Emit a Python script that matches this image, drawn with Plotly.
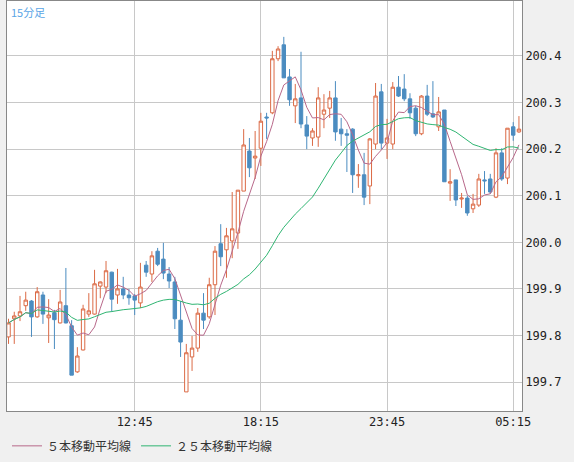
import pandas as pd
import plotly.graph_objects as go

# 15-minute bars, 07:15 -> 05:30 next day
start = "2024-01-01 07:15"
opens = [199.797, 199.836, 199.842, 199.864, 199.874, 199.840, 199.887, 199.838, 199.849, 199.827,
         199.864, 199.821, 199.722, 199.769, 199.846, 199.846, 199.906, 199.904, 199.936, 199.887,
         199.900, 199.887, 199.885, 199.870, 199.951, 199.932, 199.981, 199.964, 199.932, 199.915,
         199.833, 199.679, 199.754, 199.773, 199.848, 199.840, 199.909, 199.997, 199.984, 200.003,
         200.020, 200.110, 200.196, 200.181, 200.202, 200.269, 200.278, 200.394, 200.424, 200.355,
         200.293, 200.310, 200.252, 200.224, 200.226, 200.275, 200.288, 200.310, 200.243, 200.233,
         200.243, 200.143, 200.145, 200.121, 200.211, 200.323, 200.213, 200.211, 200.333, 200.329,
         200.308, 200.288, 200.233, 200.314, 200.276, 200.248, 200.284, 200.127, 200.134, 200.093,
         200.095, 200.072, 200.080, 200.134, 200.136, 200.097, 200.192, 200.138, 200.248, 200.237]
highs = [199.836, 199.851, 199.885, 199.894, 199.876, 199.904, 199.894, 199.878, 199.855, 199.898,
         199.945, 199.833, 199.775, 199.866, 199.891, 199.941, 199.916, 199.960, 199.937, 199.943,
         199.926, 199.900, 199.889, 199.956, 199.960, 199.981, 199.988, 199.999, 199.947, 199.926,
         199.874, 199.782, 199.799, 199.859, 199.891, 199.924, 199.992, 200.039, 200.031, 200.108,
         200.112, 200.243, 200.224, 200.239, 200.278, 200.278, 200.411, 200.421, 200.441, 200.372,
         200.340, 200.409, 200.271, 200.245, 200.333, 200.318, 200.325, 200.346, 200.267, 200.243,
         200.245, 200.168, 200.192, 200.224, 200.342, 200.340, 200.265, 200.344, 200.357, 200.361,
         200.320, 200.293, 200.316, 200.338, 200.346, 200.312, 200.284, 200.157, 200.134, 200.106,
         200.100, 200.104, 200.147, 200.153, 200.147, 200.202, 200.202, 200.245, 200.258, 200.271]
lows = [199.782, 199.782, 199.831, 199.853, 199.797, 199.838, 199.825, 199.784, 199.771, 199.826,
        199.826, 199.715, 199.720, 199.768, 199.840, 199.845, 199.880, 199.891, 199.851, 199.868,
        199.878, 199.866, 199.844, 199.859, 199.926, 199.915, 199.949, 199.921, 199.902, 199.814,
        199.754, 199.679, 199.724, 199.765, 199.814, 199.836, 199.844, 199.949, 199.924, 199.966,
        199.986, 200.110, 200.140, 200.136, 200.164, 200.222, 200.275, 200.389, 200.353, 200.293,
        200.256, 200.245, 200.200, 200.207, 200.205, 200.245, 200.267, 200.218, 200.207, 200.151,
        200.106, 200.117, 200.080, 200.082, 200.200, 200.200, 200.179, 200.200, 200.312, 200.303,
        200.265, 200.228, 200.230, 200.271, 200.267, 200.239, 200.130, 200.089, 200.078, 200.074,
        200.057, 200.063, 200.076, 200.104, 200.104, 200.095, 200.132, 200.125, 200.218, 200.235]
closes = [199.827, 199.842, 199.851, 199.876, 199.840, 199.894, 199.846, 199.844, 199.834, 199.872,
          199.827, 199.715, 199.756, 199.857, 199.853, 199.911, 199.915, 199.939, 199.878, 199.900,
          199.887, 199.881, 199.876, 199.904, 199.936, 199.971, 199.953, 199.934, 199.917, 199.836,
          199.786, 199.763, 199.773, 199.848, 199.833, 199.909, 199.981, 199.969, 200.014, 200.029,
          200.112, 200.209, 200.160, 200.185, 200.260, 200.267, 200.394, 200.415, 200.353, 200.306,
          200.308, 200.254, 200.228, 200.239, 200.310, 200.284, 200.310, 200.237, 200.233, 200.230,
          200.145, 200.145, 200.097, 200.222, 200.314, 200.213, 200.224, 200.333, 200.314, 200.308,
          200.278, 200.233, 200.314, 200.275, 200.269, 200.280, 200.130, 200.130, 200.091, 200.095,
          200.063, 200.082, 200.136, 200.132, 200.108, 200.192, 200.136, 200.245, 200.230, 200.243]
tick_labels = ["12:45", "18:15", "23:45", "05:15"]
y_ticks = [199.7, 199.8, 199.9, 200.0, 200.1, 200.2, 200.3, 200.4]

df = pd.DataFrame({"open": opens, "high": highs, "low": lows, "close": closes})
df["time"] = pd.date_range(start, periods=len(df), freq="15min")
df["ma5"] = df["close"].rolling(5, min_periods=1).mean()
df["ma25"] = df["close"].rolling(25, min_periods=1).mean()

tick_vals = [df["time"].iloc[0] + pd.Timedelta(hours=5.5 * (i + 1)) for i in range(len(tick_labels))]

fig = go.Figure()
fig.add_trace(go.Candlestick(
    x=df["time"], open=df["open"], high=df["high"], low=df["low"], close=df["close"],
    increasing=dict(line=dict(color="#db6a45", width=1), fillcolor="white"),
    decreasing=dict(line=dict(color="#4b8cc0", width=1), fillcolor="#4b8cc0"),
    whiskerwidth=0, showlegend=False, hoverinfo="skip",
))
fig.add_trace(go.Scatter(x=df["time"], y=df["ma5"], mode="lines", name="５本移動平均線",
                         line=dict(color="#b8688a", width=1)))
fig.add_trace(go.Scatter(x=df["time"], y=df["ma25"], mode="lines", name="２５本移動平均線",
                         line=dict(color="#2fb572", width=1)))

fig.add_annotation(text="15分足", xref="paper", yref="paper", x=0.003, y=0.997,
                   xanchor="left", yanchor="top", showarrow=False,
                   font=dict(color="#5aa5e6", size=11, family="Noto Sans CJK JP"))

fig.update_layout(
    width=574, height=462,
    margin=dict(l=7, r=52, t=1, b=51, autoexpand=False),
    paper_bgcolor="#f0f0f0", plot_bgcolor="white",
    boxgap=0.15,
    font=dict(family="DejaVu Sans Mono", size=12, color="#222"),
    legend=dict(orientation="h", x=0.0, y=-0.085, xanchor="left", yanchor="middle",
                font=dict(family="Noto Sans CJK JP", size=12, color="#333"),
                bgcolor="rgba(0,0,0,0)", itemwidth=30),
    xaxis=dict(rangeslider=dict(visible=False), automargin=False,
               range=[df["time"].iloc[0] - pd.Timedelta(minutes=4),
                      df["time"].iloc[-1] + pd.Timedelta(minutes=8)],
               tickvals=tick_vals, ticktext=tick_labels, showgrid=True,
               gridcolor="#c8c8c8", gridwidth=1, showline=True, linecolor="#888",
               mirror=True, ticks="", zeroline=False),
    yaxis=dict(side="right", range=[199.638, 200.518], tickvals=y_ticks, automargin=False,
               ticktext=[f"{v:.1f}" for v in y_ticks], showgrid=True,
               gridcolor="#c8c8c8", gridwidth=1, showline=True, linecolor="#888",
               mirror=True, ticks="", zeroline=False),
)

fig.write_html("out.html", config={"displayModeBar": False},
               post_script="document.body.style.margin='0';")
